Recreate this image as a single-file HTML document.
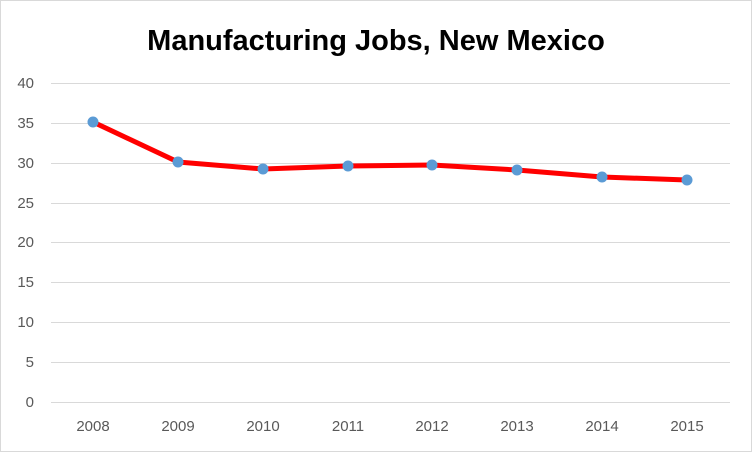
<!DOCTYPE html>
<html><head><meta charset="utf-8"><style>
html,body{margin:0;padding:0;background:#fff;}
svg{display:block;}
</style></head><body>
<svg width="752" height="452" xmlns="http://www.w3.org/2000/svg" font-family="Liberation Sans, sans-serif">
<rect x="0.5" y="0.5" width="751" height="451" fill="#fff" stroke="#d9d9d9"/>
<text x="376" y="50" text-anchor="middle" font-size="29" font-weight="bold" fill="#000">Manufacturing Jobs, New Mexico</text>
<g stroke="#d9d9d9" stroke-width="1">
<line x1="51" x2="730" y1="83.5" y2="83.5"/>
<line x1="51" x2="730" y1="123.5" y2="123.5"/>
<line x1="51" x2="730" y1="163.5" y2="163.5"/>
<line x1="51" x2="730" y1="203.5" y2="203.5"/>
<line x1="51" x2="730" y1="242.5" y2="242.5"/>
<line x1="51" x2="730" y1="282.5" y2="282.5"/>
<line x1="51" x2="730" y1="322.5" y2="322.5"/>
<line x1="51" x2="730" y1="362.5" y2="362.5"/>
<line x1="51" x2="730" y1="402.5" y2="402.5"/>
</g>
<g font-size="15" fill="#595959" text-anchor="end">
<text x="34" y="88">40</text><text x="34" y="128">35</text><text x="34" y="168">30</text>
<text x="34" y="208">25</text><text x="34" y="247">20</text><text x="34" y="287">15</text>
<text x="34" y="327">10</text><text x="34" y="367">5</text><text x="34" y="407">0</text>
</g>
<g font-size="15" fill="#595959" text-anchor="middle">
<text x="93" y="431">2008</text><text x="178" y="431">2009</text><text x="263" y="431">2010</text>
<text x="348" y="431">2011</text><text x="432" y="431">2012</text><text x="517" y="431">2013</text>
<text x="602" y="431">2014</text><text x="687" y="431">2015</text>
</g>
<polyline fill="none" stroke="#ff0000" stroke-width="5" stroke-linejoin="round" stroke-linecap="round"
points="93,122 178,162 263,169 348,166 432,165 517,170 602,177 687,180"/>
<g fill="#5b9bd5">
<circle cx="93" cy="122" r="5.5"/><circle cx="178" cy="162" r="5.5"/><circle cx="263" cy="169" r="5.5"/>
<circle cx="348" cy="166" r="5.5"/><circle cx="432" cy="165" r="5.5"/><circle cx="517" cy="170" r="5.5"/>
<circle cx="602" cy="177" r="5.5"/><circle cx="687" cy="180" r="5.5"/>
</g>
</svg>
</body></html>
